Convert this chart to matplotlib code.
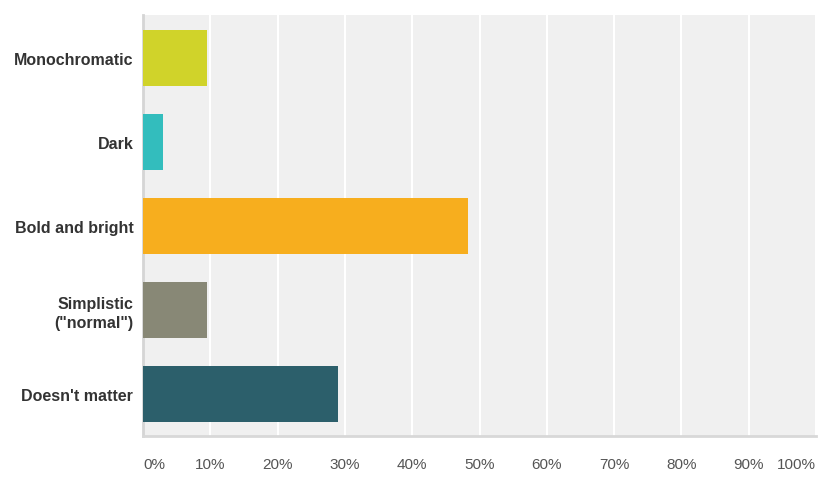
import matplotlib.pyplot as plt
import numpy as np

categories = ['Monochromatic', 'Dark', 'Bold and bright', 'Simplistic\n("normal")', "Doesn't matter"]
values = [9.5, 3.0, 48.3, 9.5, 29.0]
colors = ['#D0D32A', '#33BDBD', '#F7AE1E', '#888876', '#2C5F6B']
ticks = list(range(0, 101, 10))
tick_labels = [f'{t}%' for t in ticks]

plt.rcParams['font.family'] = ['Liberation Sans', 'DejaVu Sans']

fig = plt.figure(figsize=(8.32, 4.85), dpi=100)
ax = fig.add_axes([0.1719, 0.099, 0.8089, 0.868])
ax.set_facecolor('#F0F0F0')

y = np.arange(len(categories))
ax.barh(y, values, height=0.667, color=colors, edgecolor='none', zorder=3)

ax.set_xlim(0, 100)
ax.set_ylim(len(categories) - 0.5, -0.512)
ax.set_xticks(ticks)
ax.set_xticklabels(tick_labels, fontsize=11, color='#555555')
lbls = ax.get_xticklabels()
lbls[0].set_horizontalalignment('left')
lbls[-1].set_horizontalalignment('right')
ax.set_yticks(y)
ax.set_yticklabels(categories, fontsize=11.5, fontweight='bold', color='#333333',
                   linespacing=1.3)
ax.tick_params(axis='x', length=0, pad=15)
ax.tick_params(axis='y', length=0, pad=7)

ax.grid(axis='x', color='white', linewidth=1.5, zorder=1)
for s in ['top', 'right']:
    ax.spines[s].set_visible(False)
ax.spines['left'].set_color('#D5D5D5')
ax.spines['left'].set_linewidth(2)
ax.spines['bottom'].set_color('#D8D8D8')
ax.spines['bottom'].set_linewidth(2)

fig.savefig('out.png', dpi=100)
